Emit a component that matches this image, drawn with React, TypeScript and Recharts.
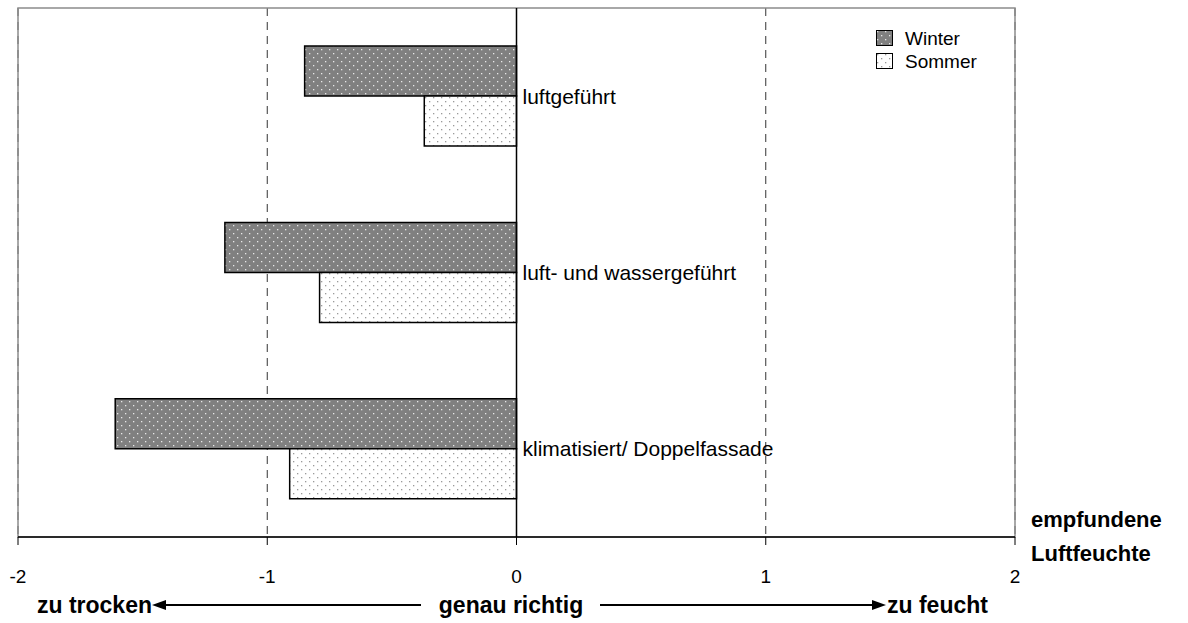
import { BarChart, Bar, XAxis, YAxis, CartesianGrid, ReferenceLine, ReferenceArea, LabelList } from "recharts";

const categories = ["luftgeführt", "luft- und wassergeführt", "klimatisiert/ Doppelfassade"];
const winterValues = [-0.85, -1.17, -1.61];
const sommerValues = [-0.37, -0.79, -0.91];
const xTicks = [-2, -1, 0, 1, 2];

const seriesNames = ["Winter", "Sommer"];
const seriesFills = ["url(#dotsDark)", "url(#dotsLight)"];

const data = categories.map((name, i) => ({
  name,
  winter: winterValues[i],
  sommer: sommerValues[i],
}));

const FONT = "'Liberation Sans', Arial, sans-serif";

// category names sit just right of the zero line, between the two bars
const CategoryLabel = (props: any) => {
  const vb = props.viewBox ?? props;
  const x = Number(vb.x);
  const w = Number(vb.width);
  const zeroX = Math.max(x, x + w);
  return (
    <text
      x={zeroX + 6}
      y={Number(vb.y) + Number(vb.height)}
      dominantBaseline="central"
      fontSize={21}
      fontFamily={FONT}
      fill="#000"
    >
      {props.value}
    </text>
  );
};

export default function App() {
  return (
    <div style={{ position: "absolute", left: 0, top: 0, width: 1188, height: 623, background: "#fff", fontFamily: FONT }}>
      <svg width={0} height={0} style={{ position: "absolute" }}>
        <defs>
          <pattern id="dotsDark" patternUnits="userSpaceOnUse" width={8} height={8}>
            <rect width={8} height={8} fill="#808080" />
            <rect x={1} y={1} width={1.3} height={1.3} fill="#e8e8e8" />
            <rect x={5} y={5} width={1.3} height={1.3} fill="#e8e8e8" />
          </pattern>
          <pattern id="dotsLight" patternUnits="userSpaceOnUse" width={8} height={8}>
            <rect width={8} height={8} fill="#fff" />
            <rect x={1} y={1} width={1.3} height={1.3} fill="#9a9a9a" />
            <rect x={5} y={5} width={1.3} height={1.3} fill="#9a9a9a" />
          </pattern>
        </defs>
      </svg>

      <BarChart
        width={1188}
        height={623}
        data={data}
        layout="vertical"
        margin={{ top: 8, right: 173, left: 18, bottom: 46 }}
        barCategoryGap="21.6%"
        barGap={0}
      >
        <CartesianGrid horizontal={false} stroke="#333" strokeDasharray="8 6" />
        <ReferenceArea x1={-2} x2={2} fill="none" stroke="#8c8c8c" strokeWidth={1.5} />
        <XAxis
          type="number"
          domain={[-2, 2]}
          ticks={xTicks}
          height={40}
          tickSize={8}
          tickMargin={25}
          axisLine={{ stroke: "#000", strokeWidth: 1.5 }}
          tickLine={{ stroke: "#000" }}
          tick={{ fill: "#000", fontSize: 19, fontFamily: FONT }}
        />
        <YAxis type="category" dataKey="name" hide width={0} />
        <Bar dataKey="winter" name="Winter" fill="url(#dotsDark)" stroke="#000" strokeWidth={1.5} isAnimationActive={false}>
          <LabelList dataKey="name" content={CategoryLabel} />
        </Bar>
        <Bar dataKey="sommer" name="Sommer" fill="url(#dotsLight)" stroke="#000" strokeWidth={1.5} isAnimationActive={false} />
        <ReferenceLine x={0} stroke="#000" strokeWidth={1.5} />
      </BarChart>

      {/* Legend */}
      <div style={{ position: "absolute", left: 876, top: 27, fontSize: 19, lineHeight: "23px" }}>
        {seriesNames.map((name, i) => (
          <div key={name} style={{ display: "flex", alignItems: "center", gap: 11 }}>
            <svg width={18} height={17}>
              <rect x={0.5} y={0.5} width={16} height={15} fill={seriesFills[i]} stroke="#000" />
            </svg>
            <span>{name}</span>
          </div>
        ))}
      </div>

      <svg
        width={1188}
        height={623}
        style={{ position: "absolute", left: 0, top: 0, pointerEvents: "none" }}
        fontFamily={FONT}
        fontWeight="bold"
        fontSize={22}
      >
        <text x={1031} y={527}>empfundene</text>
        <text x={1031} y={561}>Luftfeuchte</text>

        <g fontSize={23}>
          <text x={152} y={613} textAnchor="end">zu trocken</text>
          <text x={511} y={613} textAnchor="middle">genau richtig</text>
          <text x={887} y={613}>zu feucht</text>
        </g>
        <line x1={164} y1={605} x2={421} y2={605} stroke="#000" strokeWidth={2} />
        <polygon points="152,605 166,600 166,610" fill="#000" />
        <line x1={600} y1={605} x2={874} y2={605} stroke="#000" strokeWidth={2} />
        <polygon points="886,605 872,600 872,610" fill="#000" />
      </svg>
    </div>
  );
}
